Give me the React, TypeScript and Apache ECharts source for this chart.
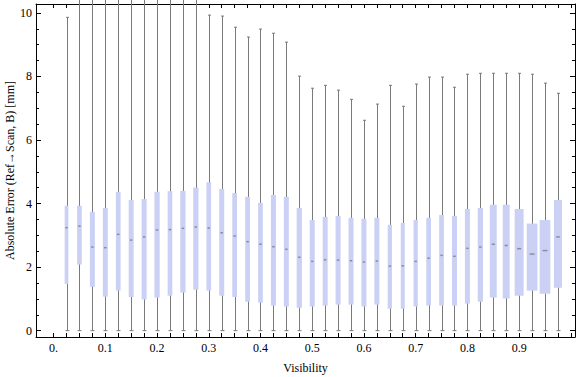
import { useEffect, useRef } from "react";
import * as echarts from "echarts";

// Box positions (Visibility bins)
const positions = [
  0.025, 0.05, 0.075, 0.1, 0.125, 0.15, 0.175, 0.2, 0.225, 0.25,
  0.275, 0.3, 0.325, 0.35, 0.375, 0.4, 0.425, 0.45, 0.475, 0.5,
  0.525, 0.55, 0.575, 0.6, 0.625, 0.65, 0.675, 0.7, 0.725, 0.75,
  0.775, 0.8, 0.825, 0.85, 0.875, 0.9, 0.925, 0.95, 0.975,
];

const whiskerLow = [
  0, 0, 0, 0, 0, 0, 0, 0, 0, 0,
  0, 0, 0, 0, 0, 0, 0, 0, 0, 0,
  0, 0, 0, 0, 0, 0, 0, 0, 0, 0,
  0, 0, 0, 0, 0, 0, 0, 0, 0,
];

const q1 = [
  1.47, 2.08, 1.38, 1.07, 1.26, 1.06, 0.98, 1.04, 1.1, 1.2,
  1.29, 1.26, 1.1, 1.06, 0.91, 0.88, 0.79, 0.76, 0.72, 0.76,
  0.79, 0.82, 0.82, 0.76, 0.82, 0.69, 0.69, 0.76, 0.79, 0.79,
  0.79, 0.85, 0.91, 1.04, 1.01, 1.1, 1.26, 1.16, 1.35,
];

const median = [
  3.24, 3.29, 2.63, 2.61, 3.03, 2.85, 2.95, 3.17, 3.18, 3.22,
  3.26, 3.23, 3.08, 2.98, 2.8, 2.72, 2.64, 2.56, 2.31, 2.18,
  2.23, 2.22, 2.2, 2.16, 2.19, 2.03, 2.04, 2.18, 2.28, 2.37,
  2.34, 2.59, 2.63, 2.72, 2.68, 2.58, 2.41, 2.52, 2.95,
];

const q3 = [
  3.93, 3.93, 3.74, 3.86, 4.37, 4.11, 4.14, 4.37, 4.39, 4.4,
  4.5, 4.67, 4.46, 4.33, 4.21, 4.02, 4.27, 4.21, 3.86, 3.48,
  3.58, 3.61, 3.55, 3.52, 3.55, 3.33, 3.39, 3.48, 3.55, 3.64,
  3.61, 3.83, 3.86, 3.96, 3.96, 3.83, 3.37, 3.48, 4.11,
];

const whiskerHigh = [
  9.86, 11, 11, 11, 11, 11, 11, 11, 11, 11,
  11, 9.93, 9.9, 9.55, 9.24, 9.49, 9.36, 9.08, 8.01, 7.63,
  7.72, 7.57, 7.28, 6.62, 7.13, 7.72, 7.06, 7.76, 7.98, 7.98,
  7.66, 8.07, 8.1, 8.1, 8.1, 8.1, 8.07, 7.79, 7.47,
];

// box widths in Visibility units
const boxWidth = [
  0.0072, 0.0091, 0.0097, 0.0097, 0.0091, 0.0097, 0.0097, 0.0102, 0.0091, 0.0102,
  0.0102, 0.0091, 0.0097, 0.0091, 0.0091, 0.0091, 0.0097, 0.0097, 0.0102, 0.0097,
  0.0097, 0.0097, 0.0097, 0.0097, 0.0097, 0.0083, 0.0077, 0.0083, 0.0091, 0.0091,
  0.0097, 0.0097, 0.0102, 0.0135, 0.0135, 0.0174, 0.0207, 0.0207, 0.0155,
];

const xTickValues = [0, 0.1, 0.2, 0.3, 0.4, 0.5, 0.6, 0.7, 0.8, 0.9];
const xTickLabels = ["0.", "0.1", "0.2", "0.3", "0.4", "0.5", "0.6", "0.7", "0.8", "0.9"];
const xMinorTicks = [
  0, 0.025, 0.05, 0.075, 0.1, 0.125, 0.15, 0.175, 0.2, 0.225, 0.25,
  0.275, 0.3, 0.325, 0.35, 0.375, 0.4, 0.425, 0.45, 0.475, 0.5,
  0.525, 0.55, 0.575, 0.6, 0.625, 0.65, 0.675, 0.7, 0.725, 0.75,
  0.775, 0.8, 0.825, 0.85, 0.875, 0.9, 0.925, 0.95, 0.975, 1.0,
];
const yTickValues = [0, 2, 4, 6, 8, 10];
const yTickLabels = ["0", "2", "4", "6", "8", "10"];
const yMinorTicks = [
  0, 0.5, 1, 1.5, 2, 2.5, 3, 3.5, 4, 4.5, 5, 5.5, 6, 6.5, 7, 7.5, 8, 8.5, 9, 9.5, 10,
];

const FONT = "'Liberation Serif', 'Times New Roman', serif";
const X_MIN = -0.034;
const X_MAX = 1.008;
const Y_MIN = -0.2;
const Y_MAX = 10.28;

const whiskerColor = "#7a7a7a";
const boxColor = "#cbd1f5";
const medianColor = "#8c8c99";

function findLabel(values: number[], labels: string[], v: number) {
  const i = values.findIndex((t) => Math.abs(t - v) < 1e-6);
  return i >= 0 ? labels[i] : "";
}

export default function App() {
  const ref = useRef<HTMLDivElement>(null);

  useEffect(() => {
    if (!ref.current) return;
    const chart = echarts.init(ref.current, undefined, { renderer: "svg" });

    const data = positions.map((x, i) => [
      x,
      whiskerLow[i],
      q1[i],
      median[i],
      q3[i],
      whiskerHigh[i],
      boxWidth[i],
    ]);

    const axisLineStyle = { show: true, onZero: false, lineStyle: { color: "#000", width: 1 } };

    const xBase = (position: "bottom" | "top") => ({
      type: "value" as const,
      position,
      min: X_MIN,
      max: X_MAX,
      splitLine: { show: false },
      axisLine: axisLineStyle,
      axisTick: {
        show: true,
        inside: true,
        length: 4,
        customValues: xMinorTicks,
        lineStyle: { color: "#000", width: 1 },
      },
    });

    const yBase = (position: "left" | "right", ticks: number[], len: number, showLine: boolean) => ({
      type: "value" as const,
      position,
      min: Y_MIN,
      max: Y_MAX,
      splitLine: { show: false },
      axisLine: showLine ? axisLineStyle : { show: false, onZero: false },
      axisTick: {
        show: true,
        inside: true,
        length: len,
        customValues: ticks,
        lineStyle: { color: "#000", width: 1 },
      },
      axisLabel: { show: false },
    });

    chart.setOption({
      animation: false,
      backgroundColor: "#fff",
      grid: { left: 36, right: 1, top: 4, bottom: 40, containLabel: false, outerBoundsMode: "none" },
      xAxis: [
        {
          ...xBase("bottom"),
          name: "Visibility",
          nameLocation: "middle",
          nameGap: 25,
          nameMoveOverlap: false,
          nameTextStyle: { fontFamily: FONT, fontSize: 12, color: "#000" },
          axisLabel: {
            show: true,
            margin: 5,
            customValues: xTickValues,
            formatter: (v: number) => findLabel(xTickValues, xTickLabels, v),
            fontFamily: FONT,
            fontSize: 12,
            color: "#000",
          },
        },
        {
          ...xBase("top"),
          axisLabel: { show: false },
        },
      ],
      yAxis: [
        {
          ...yBase("left", yTickValues, 5, true),
          name: "Absolute Error (Ref\u2192Scan, B) [mm]",
          nameLocation: "middle",
          nameGap: 20,
          nameMoveOverlap: false,
          nameTextStyle: { fontFamily: FONT, fontSize: 12, color: "#000" },
          axisLabel: {
            show: true,
            margin: 4,
            customValues: yTickValues,
            formatter: (v: number) => findLabel(yTickValues, yTickLabels, v),
            fontFamily: FONT,
            fontSize: 12,
            color: "#000",
          },
        },
        yBase("left", yMinorTicks, 3, false),
        yBase("right", yTickValues, 5, true),
        yBase("right", yMinorTicks, 3, false),
      ],
      series: [
        {
          type: "custom",
          xAxisIndex: 0,
          yAxisIndex: 0,
          clip: false,
          data,
          encode: { x: 0, y: [1, 2, 3, 4, 5] },
          renderItem: (_params: any, api: any) => {
            const x = api.value(0);
            const lo = api.value(1);
            const b1 = api.value(2);
            const med = api.value(3);
            const b3 = api.value(4);
            const hi = api.value(5);
            const w = api.value(6);
            const pLo = api.coord([x, lo]);
            const yHi = api.coord([x, hi])[1];
            const yQ1 = api.coord([x, b1])[1];
            const yQ3 = api.coord([x, b3])[1];
            const yMed = api.coord([x, med])[1];
            const bw = api.size([w, 0])[0];
            const cx = pLo[0];
            const lx = Math.round(cx) + 0.5;
            const mw = Math.max(2.5, bw * 0.45);
            const lineStyle = { stroke: whiskerColor, lineWidth: 1 };
            return {
              type: "group",
              children: [
                { type: "line", shape: { x1: lx, y1: pLo[1], x2: lx, y2: yHi }, style: lineStyle },
                { type: "line", shape: { x1: lx - 2, y1: pLo[1], x2: lx + 2, y2: pLo[1] }, style: lineStyle },
                { type: "line", shape: { x1: lx - 1.5, y1: yHi, x2: lx + 1.5, y2: yHi }, style: lineStyle },
                {
                  type: "rect",
                  shape: { x: cx - bw / 2, y: yQ3, width: bw, height: yQ1 - yQ3 },
                  style: { fill: boxColor },
                },
                {
                  type: "line",
                  shape: { x1: cx - mw / 2, y1: yMed, x2: cx + mw / 2, y2: yMed },
                  style: { stroke: medianColor, lineWidth: 1.5 },
                },
              ],
            };
          },
        },
      ],
    });

    return () => chart.dispose();
  }, []);

  return (
    <div
      ref={ref}
      style={{ position: "fixed", left: 0, top: 0, width: 576, height: 377, background: "#fff" }}
    />
  );
}
